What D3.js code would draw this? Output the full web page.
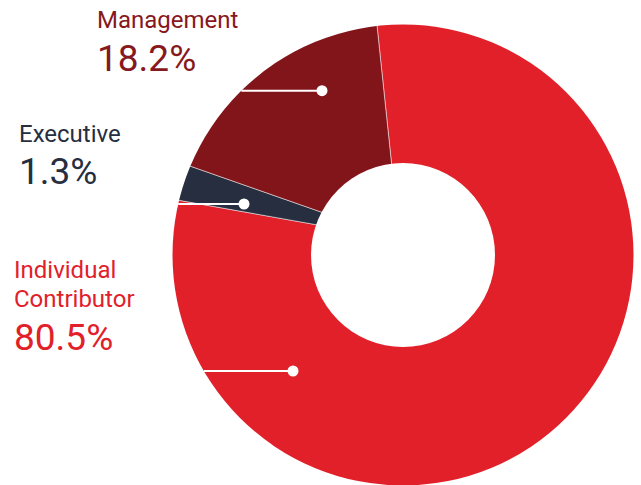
<!DOCTYPE html>
<html>
<head>
<meta charset="utf-8">
<script src="https://cdn.jsdelivr.net/npm/d3@7"></script>
<style>
  html, body { margin: 0; padding: 0; background: #fff; }
  svg { display: block; }
  text { font-family: Roboto, "Noto Sans", sans-serif; }
</style>
</head>
<body>
<div id="chart"></div>
<script>
// ---- data ----
const categories = ["Individual Contributor", "Executive", "Management"];
const shares = [80.5, 1.3, 18.2];
const colors = ["#e1202a", "#262e40", "#82151a"];
const textColors = ["#e1202a", "#262e40", "#87181d"];

// ---- layout ----
const W = 641, H = 485;
const ring = { cx: 403, cy: 255, outer: 230.5, inner: 92 };
const wedgeCenter = { x: 399.5, y: 239.5 };
const minShare = 2.6;               // smallest visible slice
const startDeg = -6.0;
const labelPos = [
  { x: 14, y: 278.3, lineH: 28.4, pctY: 350, dotX: 293, dotY: 371 },
  { x: 19, y: 141.7, lineH: 28.4, pctY: 184, dotX: 244, dotY: 204 },
  { x: 97, y: 28.3, lineH: 28.4, pctY: 71, dotX: 322, dotY: 90.7 }
];

const data = categories.map((c, i) => ({ name: c, share: shares[i], color: colors[i], tcolor: textColors[i], i }));

const svg = d3.select("#chart").append("svg").attr("width", W).attr("height", H);

svg.append("defs").append("clipPath").attr("id", "ringClip")
  .attr("clipPathUnits", "userSpaceOnUse")
  .append("circle").attr("cx", ring.cx).attr("cy", ring.cy).attr("r", ring.outer);

const start = startDeg * Math.PI / 180;
const pie = d3.pie().sort(null).value(d => Math.max(d.share, minShare))
  .startAngle(start).endAngle(start + 2 * Math.PI);
const arc = d3.arc().innerRadius(0).outerRadius(260);

const clipG = svg.append("g").attr("clip-path", "url(#ringClip)");
clipG.append("g")
  .attr("transform", `translate(${wedgeCenter.x},${wedgeCenter.y})`)
  .selectAll("path").data(pie(data)).join("path")
  .attr("d", arc)
  .attr("fill", d => d.data.color)
  .attr("stroke", "#fff")
  .attr("stroke-width", 0.5);

svg.append("circle").attr("cx", ring.cx).attr("cy", ring.cy).attr("r", ring.inner).attr("fill", "#fff");

// leader lines
data.forEach(d => {
  const p = labelPos[d.i];
  const dy = p.dotY - ring.cy;
  const x0 = ring.cx - Math.sqrt(ring.outer * ring.outer - dy * dy);
  svg.append("line").attr("x1", x0).attr("x2", p.dotX).attr("y1", p.dotY).attr("y2", p.dotY)
    .attr("stroke", "#fff").attr("stroke-width", 2);
  svg.append("circle").attr("cx", p.dotX).attr("cy", p.dotY).attr("r", 5.5).attr("fill", "#fff");
});

// labels
data.forEach(d => {
  const p = labelPos[d.i];
  const words = d.name.includes(" ") ? d.name.split(" ") : [d.name];
  const t = svg.append("text").attr("x", p.x).attr("y", p.y)
    .attr("fill", d.tcolor).attr("font-size", 24);
  words.forEach((w, k) => {
    t.append("tspan").attr("x", p.x).attr("dy", k === 0 ? 0 : p.lineH).text(w);
  });
  svg.append("text").attr("x", p.x).attr("y", p.pctY)
    .attr("fill", d.tcolor).attr("font-size", 37)
    .text(d3.format(".1f")(d.share) + "%");
});
</script>
</body>
</html>
